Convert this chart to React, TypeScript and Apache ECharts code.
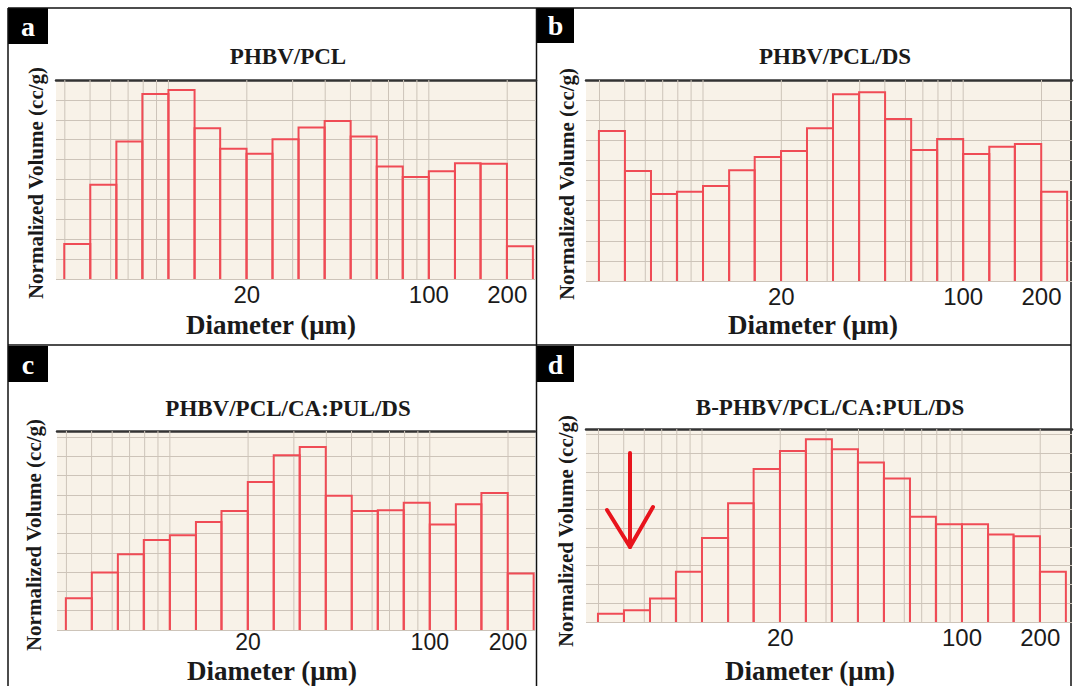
import React, { useEffect, useRef } from "react";
import * as echarts from "echarts";

// ---------- data ----------
const binEdges = [3.98, 5.01, 6.31, 7.94, 10, 12.6, 15.8, 19.95, 25.1, 31.6, 39.8, 50.1, 63.1, 79.4, 100, 126, 158, 199.5, 251];
const volA = [1.76, 4.73, 6.91, 9.3, 9.5, 7.58, 6.54, 6.3, 7.02, 7.61, 7.94, 7.16, 5.65, 5.12, 5.42, 5.82, 5.79, 1.64];
const volB = [7.46, 5.47, 4.33, 4.44, 4.73, 5.51, 6.17, 6.47, 7.6, 9.29, 9.39, 8.06, 6.52, 7.06, 6.32, 6.68, 6.82, 4.44];
const volC = [1.64, 2.98, 3.93, 4.66, 4.91, 5.6, 6.17, 7.67, 9.05, 9.48, 6.95, 6.17, 6.21, 6.59, 5.47, 6.52, 7.1, 2.93];
const volD = [0.44, 0.62, 1.25, 2.67, 4.48, 6.32, 8.15, 9.11, 9.73, 9.2, 8.49, 7.65, 5.6, 5.2, 5.2, 4.66, 4.57, 2.67];
const panelTitles = ["PHBV/PCL", "PHBV/PCL/DS", "PHBV/PCL/CA:PUL/DS", "B-PHBV/PCL/CA:PUL/DS"];
const panelLetters = ["a", "b", "c", "d"];
const xTickLabels = [20, 100, 200];
const xGridValues = [4, 5, 6, 7, 8, 9, 10, 20, 30, 40, 50, 60, 70, 80, 90, 100, 200];
const xAxisName = "Diameter (\u03bcm)";
const yAxisName = "Normalized Volume (cc/g)";

// ---------- layout ----------
const layouts = [
  { left: 56, top: 80, right: 536, bottom: 279, xMin: 3.7, xMax: 258, yMax: 10, tickMargin: 5, tickSize: 24, title: [288, 56], yName: [36, 183], xName: [271, 325], box: [8, 8, 40, 36] },
  { left: 586, top: 80, right: 1072, bottom: 281, xMin: 3.55, xMax: 262, yMax: 10, tickMargin: 5, tickSize: 24, title: [835, 56], yName: [567, 184], xName: [813, 325], box: [537, 8, 37, 35] },
  { left: 57, top: 431, right: 535, bottom: 630, xMin: 3.68, xMax: 254, yMax: 10.31, tickMargin: 2, tickSize: 23, title: [288, 408], yName: [34, 535], xName: [272, 671], box: [8, 346, 40, 36] },
  { left: 586, top: 429, right: 1072, bottom: 622, xMin: 3.58, xMax: 265, yMax: 10.28, tickMargin: 5, tickSize: 24, title: [830, 407], yName: [566, 531], xName: [810, 671], box: [537, 346, 37, 36] },
];

const SERIF = "Liberation Serif";
const SANS = "Liberation Sans";
const RED = "#ef4b55";
const GRID_COLOR = "#cdc4b9";
const BG = "#f8f2e8";
const INK = "#1a1a1a";

export default function App() {
  const ref = useRef<HTMLDivElement>(null);

  useEffect(() => {
    if (!ref.current) return;
    const chart = echarts.init(ref.current, null, { renderer: "svg" });
    const vols = [volA, volB, volC, volD];

    const grids: any[] = [];
    const xAxes: any[] = [];
    const yAxes: any[] = [];
    const series: any[] = [];
    const graphics: any[] = [];

    const serifText = (text: string, x: number, y: number, size: number, fill: string, extra: any = {}) => ({
      type: "text",
      x,
      y,
      ...extra,
      style: {
        text,
        fontFamily: SERIF,
        fontWeight: "bold",
        fontSize: size,
        fill,
        align: "center",
        verticalAlign: "middle",
        lineHeight: size,
      },
    });

    layouts.forEach((L, i) => {
      grids.push({
        left: L.left,
        top: L.top,
        width: L.right - L.left,
        height: L.bottom - L.top,
        show: true,
        backgroundColor: BG,
        borderWidth: 0,
      });
      xAxes.push({
        type: "log",
        logBase: 10,
        gridIndex: i,
        min: L.xMin,
        max: L.xMax,
        axisLine: { show: false },
        axisTick: { show: false },
        splitLine: { show: false },
        minorSplitLine: { show: false },
        axisLabel: {
          customValues: xTickLabels,
          formatter: (v: number) => String(Math.round(v)),
          fontSize: L.tickSize,
          lineHeight: 20,
          fontFamily: SANS,
          color: INK,
          margin: L.tickMargin,
        },
      });
      xAxes.push({
        type: "value",
        gridIndex: i,
        position: "top",
        min: 0,
        max: 1,
        axisLine: { show: true, onZero: false, lineStyle: { color: "#333", width: 2.5 } },
        axisTick: { show: false },
        axisLabel: { show: false },
        splitLine: { show: false },
      });
      yAxes.push({
        type: "value",
        gridIndex: i,
        min: 0,
        max: L.yMax,
        interval: 1,
        axisLine: { show: false },
        axisTick: { show: false },
        axisLabel: { show: false },
        splitLine: { show: true, lineStyle: { color: GRID_COLOR, width: 1 } },
      });

      const yMax = L.yMax;
      series.push({
        type: "custom",
        xAxisIndex: 2 * i,
        yAxisIndex: i,
        silent: true,
        z: 1,
        data: xGridValues.map((v) => [v]),
        encode: { x: 0 },
        renderItem: (params: any, api: any) => {
          const x = api.value(0);
          const p1 = api.coord([x, 0]);
          const p2 = api.coord([x, yMax]);
          return {
            type: "line",
            shape: { x1: p1[0], y1: p1[1], x2: p2[0], y2: p2[1] },
            style: { stroke: GRID_COLOR, lineWidth: 1 },
          };
        },
      });
      series.push({
        type: "custom",
        xAxisIndex: 2 * i,
        yAxisIndex: i,
        z: 3,
        data: vols[i].map((v, k) => [binEdges[k], binEdges[k + 1], v]),
        encode: { x: [0, 1], y: 2 },
        renderItem: (params: any, api: any) => {
          const lo = api.value(0);
          const hi = api.value(1);
          const v = api.value(2);
          const a = api.coord([lo, 0]);
          const b = api.coord([lo, v]);
          const c = api.coord([hi, v]);
          const d = api.coord([hi, 0]);
          return {
            type: "polyline",
            shape: { points: [a, b, c, d] },
            style: { fill: "none", stroke: RED, lineWidth: 2 },
          };
        },
      });

      graphics.push(serifText(panelTitles[i], L.title[0], L.title[1], 23, INK));
      graphics.push(serifText(xAxisName, L.xName[0], L.xName[1], 27, INK));
      graphics.push(serifText(yAxisName, L.yName[0], L.yName[1], 21, INK, { rotation: Math.PI / 2 }));
      const [bx, by, bw, bh] = L.box;
      graphics.push({ type: "rect", shape: { x: bx, y: by, width: bw, height: bh }, style: { fill: "#000" } });
      graphics.push(serifText(panelLetters[i], bx + bw / 2, by + bh / 2, 28, "#fff"));
    });

    const border = { stroke: "#111", lineWidth: 1.5 };
    graphics.push({ type: "line", shape: { x1: 8, y1: 8, x2: 1071, y2: 8 }, style: border });
    graphics.push({ type: "line", shape: { x1: 8, y1: 8, x2: 8, y2: 686 }, style: border });
    graphics.push({ type: "line", shape: { x1: 536.5, y1: 8, x2: 536.5, y2: 686 }, style: border });
    graphics.push({ type: "line", shape: { x1: 8, y1: 345, x2: 1071, y2: 345 }, style: border });
    graphics.push({ type: "line", shape: { x1: 1071, y1: 8, x2: 1071, y2: 686 }, style: border });

    const arrowStyle = { stroke: "#e8141c", lineWidth: 4, fill: "none", lineCap: "round", lineJoin: "round" };
    graphics.push({ type: "line", z: 10, shape: { x1: 630, y1: 453, x2: 630, y2: 547 }, style: arrowStyle });
    graphics.push({ type: "polyline", z: 10, shape: { points: [[607, 510], [630, 547], [653, 507]] }, style: arrowStyle });

    chart.setOption({
      animation: false,
      backgroundColor: "#fff",
      grid: grids,
      xAxis: xAxes,
      yAxis: yAxes,
      series,
      graphic: { elements: graphics },
    });

    return () => chart.dispose();
  }, []);

  return (
    <div
      ref={ref}
      style={{ position: "absolute", left: 0, top: 0, width: 1075, height: 686 }}
    />
  );
}
